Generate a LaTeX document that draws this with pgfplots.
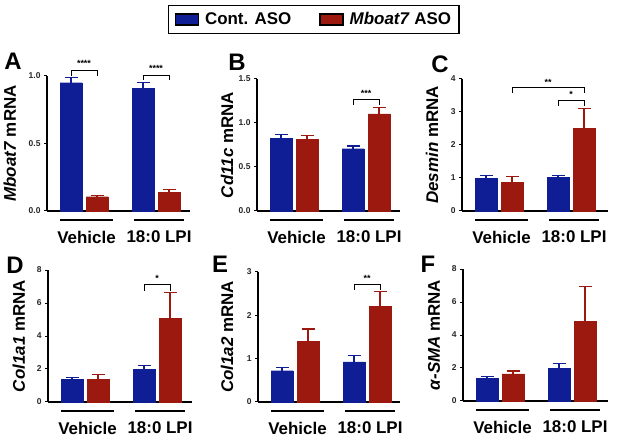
\documentclass[border=0pt]{standalone}
\usepackage{fontspec}
\setmainfont{Liberation Sans}
\usepackage{pgfplots}
\pgfplotsset{compat=1.18}
\definecolor{cblue}{RGB}{16,30,150}
\definecolor{cred}{RGB}{155,25,15}
\newcommand{\fs}[1]{\fontsize{#1}{#1}\selectfont\bfseries}
\pgfplotsset{
 legimg/.style={legend image code/.code={\fill[##1] (0bp,-5.5bp) rectangle (23bp,5.5bp);}},
 panel/.style={
   scale only axis, clip=false,
   anchor=south west,
   xmin=0, ymin=0,
   axis lines=left,
   axis line style={-, line width=1.4bp, black},
   xtick=\empty,
   tick align=outside,
   major tick length=3bp,
   every tick/.style={black, line width=1bp},
   tick label style={font=\fs{8.5}, text=black!85},
   /pgf/number format/assume math mode=true,
   every axis y label/.style={at={(axis description cs:#1,0.5)}, rotate=90, anchor=base, font=\fs{17}},
 },
 bars/.style={ybar, bar width=22, bar shift=0pt, fill=#1, draw=#1, line width=0.3bp,
   error bars/.cd, y dir=plus, y explicit,
   error bar style={#1, line width=1.1bp},
   error mark options={rotate=90, #1, line width=1.1bp, mark size=6.5bp}},
}
\newcommand{\groups}{%
 \draw[line width=2bp] ([yshift=-9bp]axis cs:13,0) -- ([yshift=-9bp]axis cs:66,0);
 \draw[line width=2bp] ([yshift=-9bp]axis cs:87,0) -- ([yshift=-9bp]axis cs:137,0);
 \node[font=\fs{17}, inner sep=0pt] at ([yshift=-26bp]axis cs:39.5,0) {Vehicle};
 \node[font=\fs{17}, inner sep=0pt] at ([yshift=-26bp]axis cs:112,0) {18:0 LPI};
}
% \brk{x1}{x2}{ybar}{yleg}{stars}{xmid}{ystar}
\newcommand{\brk}[7]{%
 \draw[line width=0.9bp, black] (axis cs:#1,#4) -- (axis cs:#1,#3) -- (axis cs:#2,#3) -- (axis cs:#2,#4);
 \node[font=\fs{9}, inner sep=0pt] at (axis cs:#6,#7) {#5};
}
\begin{document}
\begin{tikzpicture}[x=1bp,y=1bp]
\path[use as bounding box] (0,0) rectangle (617,438);

% ---------- A ----------
\begin{axis}[panel=-0.217, at={(47bp,227bp)}, width=143bp, height=135bp, xmax=143, ymax=1.0,
  ytick={0,0.5,1}, yticklabel style={/pgf/number format/.cd, fixed, fixed zerofill, precision=1},
  ylabel={\textit{Mboat7} mRNA},
  legend columns=2,
  legend style={at={(axis description cs:0.846,1.526)}, anchor=north west, draw=black, line width=1.4bp,
    font=\fs{17}, inner xsep=6bp, inner ysep=5bp,
    /tikz/every odd column/.append style={column sep=4bp},
    /tikz/every even column/.append style={column sep=26bp}}]
\addlegendimage{legimg, fill=cblue}
\addlegendentry{Cont. ASO}
\addlegendimage{legimg, fill=cred}
\addlegendentry{\textit{Mboat7} ASO}
\addplot[bars=cblue] coordinates {(24,0.950) +- (0,0.040) (96,0.909) +- (0,0.044)};
\addplot[bars=cred] coordinates {(50,0.106) +- (0,0.012) (122,0.138) +- (0,0.018)};
\groups
\brk{24}{50}{1.044}{1.0}{****}{37}{1.092}
\brk{96}{122}{1.007}{0.97}{****}{109}{1.055}
\end{axis}

% ---------- B ----------
\begin{axis}[panel=-0.167, at={(257bp,227bp)}, width=143bp, height=132bp, xmax=143, ymax=1.5,
  ytick={0,0.5,1,1.5}, yticklabel style={/pgf/number format/.cd, fixed, fixed zerofill, precision=1},
  ylabel={\textit{Cd11c} mRNA}]
\addplot[bars=cblue] coordinates {(24,0.826) +- (0,0.046) (96,0.708) +- (0,0.030)};
\addplot[bars=cred] coordinates {(50,0.818) +- (0,0.042) (122,1.104) +- (0,0.072)};
\groups
\brk{96}{122}{1.264}{1.205}{***}{109}{1.335}
\end{axis}

% ---------- C ----------
\begin{axis}[panel=-0.164, at={(462bp,227bp)}, width=146bp, height=132bp, xmax=146, ymax=4,
  ytick={0,1,2,3,4},
  ylabel={\textit{Desmin} mRNA}]
\addplot[bars=cblue] coordinates {(24,0.997) +- (0,0.091) (96,1.028) +- (0,0.060)};
\addplot[bars=cred] coordinates {(50,0.877) +- (0,0.171) (122,2.509) +- (0,0.604)};
\groups
\brk{50}{122}{3.75}{3.57}{**}{86}{3.9}
\brk{96}{122}{3.36}{3.18}{*}{109}{3.52}
\end{axis}

% ---------- D ----------
\begin{axis}[panel=-0.160, at={(48bp,36bp)}, width=144bp, height=132bp, xmax=144, ymax=8,
  ytick={0,2,4,6,8},
  ylabel={\textit{Col1a1} mRNA}]
\addplot[bars=cblue] coordinates {(24,1.357) +- (0,0.121) (96,1.985) +- (0,0.225)};
\addplot[bars=cred] coordinates {(50,1.357) +- (0,0.323) (122,5.06) +- (0,1.56)};
\groups
\brk{96}{122}{7.13}{6.75}{*}{109}{7.5}
\end{axis}

% ---------- E ----------
\begin{axis}[panel=-0.176, at={(258bp,36bp)}, width=142bp, height=130bp, xmax=142, ymax=3,
  ytick={0,1,2,3},
  ylabel={\textit{Col1a2} mRNA}]
\addplot[bars=cblue] coordinates {(24,0.723) +- (0,0.069) (96,0.923) +- (0,0.146)};
\addplot[bars=cred] coordinates {(50,1.400) +- (0,0.285) (122,2.215) +- (0,0.339)};
\groups
\brk{96}{122}{2.72}{2.58}{**}{109}{2.86}
\end{axis}

% ---------- F ----------
\begin{axis}[panel=-0.159, at={(463bp,37bp)}, width=145bp, height=132bp, xmax=145, ymax=8,
  ytick={0,2,4,6,8},
  ylabel={\textit{α-SMA} mRNA}]
\addplot[bars=cblue] coordinates {(24,1.357) +- (0,0.143) (96,1.965) +- (0,0.325)};
\addplot[bars=cred] coordinates {(50,1.640) +- (0,0.180) (122,4.82) +- (0,2.13)};
\groups
\end{axis}

% panel letters
\node[font=\fs{24}, inner sep=0pt] at (13,377) {A};
\node[font=\fs{24}, inner sep=0pt] at (237,376) {B};
\node[font=\fs{24}, inner sep=0pt] at (440,374) {C};
\node[font=\fs{24}, inner sep=0pt] at (15,173) {D};
\node[font=\fs{24}, inner sep=0pt] at (220,174) {E};
\node[font=\fs{24}, inner sep=0pt] at (428,174) {F};
\end{tikzpicture}
\end{document}
